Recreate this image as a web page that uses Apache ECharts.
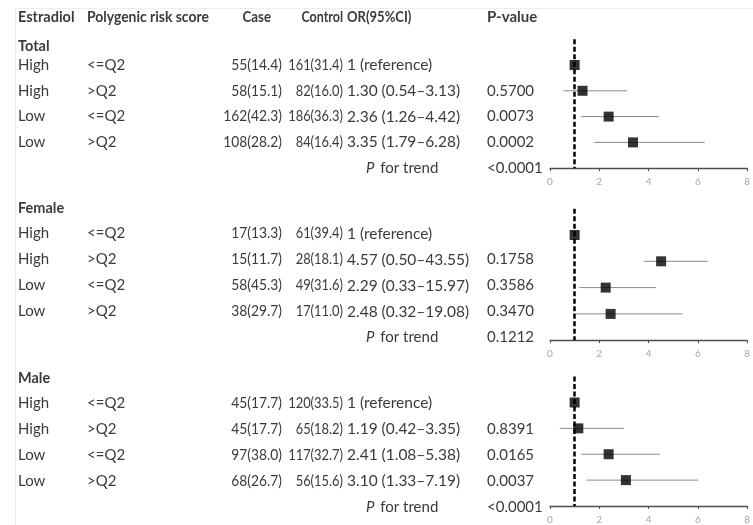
<!DOCTYPE html>
<html><head><meta charset="utf-8">
<script src="https://cdn.jsdelivr.net/npm/echarts@6/dist/echarts.min.js"></script>
<style>html,body{margin:0;padding:0;background:#fff}#c{width:753px;height:525px}</style>
</head><body><div id="c"></div>
<script>
// ---- data ----
const headers = ['Estradiol', 'Polygenic risk score', 'Case', 'Control', 'OR(95%CI)', 'P-value'];
const groups = ['Total', 'Female', 'Male'];
const estradiol = ['High', 'High', 'Low', 'Low'];
const prs = ['<=Q2', '>Q2', '<=Q2', '>Q2'];

const caseTotal = ['55(14.4)', '58(15.1)', '162(42.3)', '108(28.2)'];
const controlTotal = ['161(31.4)', '82(16.0)', '186(36.3)', '84(16.4)'];
const orTotal = ['1 (reference)', '1.30 (0.54\u20133.13)', '2.36 (1.26\u20134.42)', '3.35 (1.79\u20136.28)'];
const pTotal = ['', '0.5700', '0.0073', '0.0002'];
const trendTotal = '<0.0001';

const caseFemale = ['17(13.3)', '15(11.7)', '58(45.3)', '38(29.7)'];
const controlFemale = ['61(39.4)', '28(18.1)', '49(31.6)', '17(11.0)'];
const orFemale = ['1 (reference)', '4.57 (0.50\u201343.55)', '2.29 (0.33\u201315.97)', '2.48 (0.32\u201319.08)'];
const pFemale = ['', '0.1758', '0.3586', '0.3470'];
const trendFemale = '0.1212';

const caseMale = ['45(17.7)', '45(17.7)', '97(38.0)', '68(26.7)'];
const controlMale = ['120(33.5)', '65(18.2)', '117(32.7)', '56(15.6)'];
const orMale = ['1 (reference)', '1.19 (0.42\u20133.35)', '2.41 (1.08\u20135.38)', '3.10 (1.33\u20137.19)'];
const pMale = ['', '0.8391', '0.0165', '0.0037'];
const trendMale = '<0.0001';

// plotted estimates and whiskers (as drawn in the figure)
const estTotal = [1.0, 1.32, 2.38, 3.37];
const lowTotal = [null, 0.54, 1.26, 1.79];
const highTotal = [null, 3.13, 4.42, 6.28];

const estFemale = [1.0, 4.51, 2.26, 2.46];
const lowFemale = [null, 3.8, 1.19, 0.95];
const highFemale = [null, 6.4, 4.3, 5.37];

const estMale = [1.0, 1.15, 2.38, 3.08];
const lowMale = [null, 0.4, 1.27, 1.49];
const highMale = [null, 3.0, 4.46, 6.02];

const xTicks = [0, 2, 4, 6, 8];
const refValue = 1;

// ---- layout ----
const FONT = 'Lato';
const TXT = '#3b3b3b';
const colX = {est: 18, prs: 87, caseR: 282, ctrlR: 343, or: 347, p: 487, trend: 366};
const panels = [
  {name: groups[0], cs: caseTotal, ct: controlTotal, or: orTotal, p: pTotal, trend: trendTotal,
   est: estTotal, lo: lowTotal, hi: highTotal, headY: 46, textY0: 65, textStep: 25.8, plotY0: 65, plotStep: 25.8},
  {name: groups[1], cs: caseFemale, ct: controlFemale, or: orFemale, p: pFemale, trend: trendFemale,
   est: estFemale, lo: lowFemale, hi: highFemale, headY: 208, textY0: 233.5, textStep: 26, plotY0: 235, plotStep: 26.3},
  {name: groups[2], cs: caseMale, ct: controlMale, or: orMale, p: pMale, trend: trendMale,
   est: estMale, lo: lowMale, hi: highMale, headY: 378, textY0: 403.3, textStep: 26, plotY0: 402.7, plotStep: 26.1}
];

function txt(x, y, s, opt) {
  opt = opt || {};
  const size = opt.size || 14.5;
  const el = {type: 'text', x: x, y: y, silent: true,
    style: Object.assign({text: s, fill: TXT, font: (opt.bold ? 'bold ' : '') + size + 'px ' + FONT,
      textAlign: opt.align || 'left', textVerticalAlign: 'middle'}, opt.style || {})};
  if (opt.sx) el.scaleX = opt.sx;
  return el;
}

const graphics = [];
// faint frame lines
graphics.push({type: 'line', silent: true, shape: {x1: 15, y1: 8.5, x2: 753, y2: 8.5}, style: {stroke: '#ededed', lineWidth: 1}});
graphics.push({type: 'line', silent: true, shape: {x1: 15.5, y1: 8, x2: 15.5, y2: 525}, style: {stroke: '#ededed', lineWidth: 1}});
// header
const headY = 17;
graphics.push(txt(colX.est, headY, headers[0], {bold: true}));
graphics.push(txt(colX.prs, headY, headers[1], {bold: true, size: 14.5, sx: 0.96}));
graphics.push(txt(271, headY, headers[2], {bold: true, align: 'right', size: 14.5, sx: 0.92}));
graphics.push(txt(343, headY, headers[3], {bold: true, align: 'right', size: 14.5, sx: 0.86}));
graphics.push(txt(colX.or, headY, headers[4], {bold: true, size: 14.5, sx: 0.9}));
graphics.push(txt(colX.p, headY, headers[5], {bold: true, size: 15}));

panels.forEach(function (pn) {
  graphics.push(txt(colX.est, pn.headY, pn.name, {bold: true}));
  for (let i = 0; i < 4; i++) {
    const y = pn.textY0 + i * pn.textStep;
    graphics.push(txt(colX.est, y, estradiol[i], {size: 15}));
    graphics.push(txt(colX.prs, y, prs[i], {size: 15}));
    graphics.push(txt(colX.caseR, y, pn.cs[i], {align: 'right', size: 15, sx: 0.92}));
    graphics.push(txt(colX.ctrlR, y, pn.ct[i], {align: 'right', size: 15, sx: 0.86}));
    graphics.push(txt(colX.or, y, pn.or[i], {size: 15.5}));
    if (pn.p[i]) graphics.push(txt(colX.p, y, pn.p[i], {size: 15}));
  }
  const ty = pn.textY0 + 4 * pn.textStep;
  graphics.push({type: 'text', x: colX.trend, y: ty, silent: true,
    style: {text: '{i|P} for trend', fill: TXT, font: '15px ' + FONT, textVerticalAlign: 'middle',
      rich: {i: {fontStyle: 'italic', fontFamily: FONT, fontSize: 15, fill: TXT, padding: [0, 2, 0, 0]}}}});
  graphics.push(txt(colX.p, ty, pn.trend, {size: 15}));
});

// ---- grids / axes / series ----
const grids = [], xAxes = [], yAxes = [], series = [];
panels.forEach(function (pn, k) {
  const top = pn.plotY0 - pn.plotStep;
  grids.push({left: 550, width: 202, top: top, height: 5 * pn.plotStep});
  xAxes.push({type: 'value', gridIndex: k, min: xTicks[0], max: xTicks[xTicks.length - 1], interval: 2,
    position: 'bottom',
    axisLine: {show: true, onZero: false, lineStyle: {color: '#4d4d4d', width: 1.3}},
    axisTick: {show: true, length: 3, lineStyle: {color: '#4d4d4d'}},
    axisLabel: {show: true, color: '#a6a6a6', fontSize: 10, fontFamily: FONT, margin: 9,
      showMaxLabel: true, showMinLabel: true},
    splitLine: {show: false}});
  yAxes.push({type: 'value', gridIndex: k, min: 0, max: 5, inverse: true, show: false,
    axisLine: {show: false}, splitLine: {show: false}});
  const errData = [];
  const ptData = [];
  for (let i = 0; i < 4; i++) {
    if (pn.lo[i] != null) errData.push([pn.lo[i], pn.hi[i], i + 1]);
    ptData.push([pn.est[i], i + 1]);
  }
  series.push({type: 'custom', xAxisIndex: k, yAxisIndex: k, silent: true, z: 2,
    data: errData,
    encode: {x: [0, 1], y: 2},
    renderItem: function (params, api) {
      const a = api.coord([api.value(0), api.value(2)]);
      const b = api.coord([api.value(1), api.value(2)]);
      return {type: 'line', shape: {x1: a[0], y1: a[1], x2: b[0], y2: b[1]},
        style: {stroke: '#8a8a8a', lineWidth: 1}};
    }});
  series.push({type: 'scatter', xAxisIndex: k, yAxisIndex: k, silent: true, z: 4,
    symbol: 'rect', symbolSize: 10, itemStyle: {color: '#000'}, data: ptData,
    markLine: {silent: true, symbol: 'none', label: {show: false}, animation: false,
      lineStyle: {color: '#000', type: [5, 2.5], width: 2.5},
      data: [{xAxis: refValue}]}});
});

const chart = echarts.init(document.getElementById('c'));
chart.setOption({
  animation: false,
  backgroundColor: '#fff',
  grid: grids, xAxis: xAxes, yAxis: yAxes, series: series,
  graphic: graphics
});
</script></body></html>
